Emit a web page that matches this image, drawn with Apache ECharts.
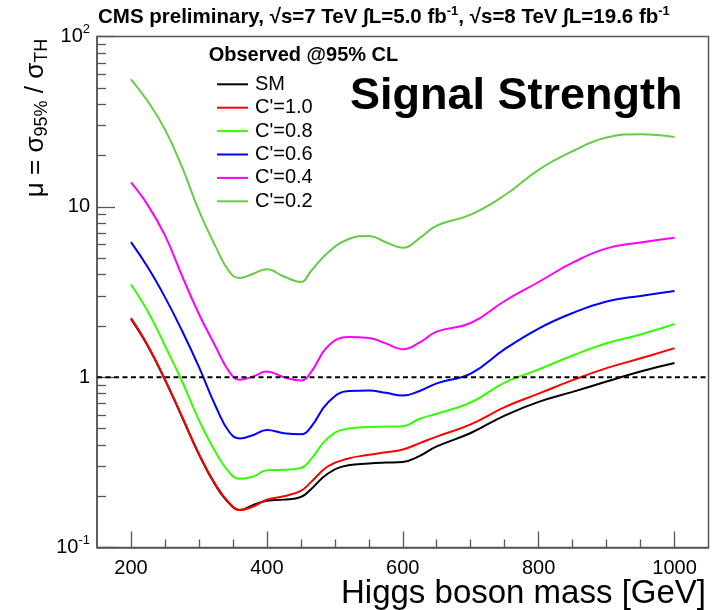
<!DOCTYPE html>
<html><head><meta charset="utf-8">
<script src="https://cdn.jsdelivr.net/npm/echarts@6/dist/echarts.min.js"></script>
<style>html,body{margin:0;padding:0;background:#fff}#c{width:712px;height:610px}</style>
</head><body><div id="c"></div>
<script>
const FONT = "'Liberation Sans', Arial, Helvetica, sans-serif";

const masses = [200, 225, 250, 275, 300, 325, 345, 360, 380, 400, 425, 450, 465, 490, 520, 550, 575, 600, 625, 650, 700, 750, 800, 850, 900, 950, 1000];
const seriesNames = ['SM', "C'=1.0", "C'=0.8", "C'=0.6", "C'=0.4", "C'=0.2"];
const seriesColors = ['#000000', '#ff0000', '#33ff00', '#0000ff', '#ff00ff', '#66cc44'];
const smValues  = [2.2, 1.52, 0.965, 0.585, 0.352, 0.23, 0.181, 0.166, 0.178, 0.188, 0.191, 0.198, 0.22, 0.272, 0.304, 0.311, 0.315, 0.318, 0.345, 0.392, 0.47, 0.595, 0.716, 0.82, 0.943, 1.08, 1.21];
const c10Values = [2.22, 1.53, 0.97, 0.59, 0.355, 0.232, 0.182, 0.166, 0.174, 0.191, 0.2, 0.215, 0.242, 0.3, 0.333, 0.35, 0.362, 0.376, 0.41, 0.448, 0.528, 0.667, 0.80, 0.96, 1.13, 1.29, 1.48];
const c08Values = [3.5, 2.42, 1.53, 0.95, 0.56, 0.36, 0.275, 0.253, 0.261, 0.284, 0.286, 0.293, 0.33, 0.44, 0.50, 0.51, 0.513, 0.515, 0.57, 0.61, 0.71, 0.93, 1.11, 1.34, 1.58, 1.78, 2.05];
const c06Values = [6.2, 4.4, 2.95, 1.88, 1.15, 0.67, 0.475, 0.437, 0.458, 0.49, 0.469, 0.462, 0.51, 0.71, 0.83, 0.835, 0.81, 0.78, 0.83, 0.92, 1.05, 1.46, 1.93, 2.38, 2.78, 3.0, 3.21];
const c04Values = [13.9, 10.2, 6.8, 3.95, 2.35, 1.5, 1.07, 0.965, 1.01, 1.08, 1.0, 0.955, 1.07, 1.52, 1.72, 1.70, 1.58, 1.46, 1.6, 1.85, 2.08, 2.8, 3.62, 4.7, 5.7, 6.18, 6.59];
const c02Values = [56, 41.5, 28.5, 17.2, 9.5, 5.8, 4.15, 3.82, 4.05, 4.3, 3.9, 3.62, 4.2, 5.4, 6.45, 6.75, 6.2, 5.75, 6.55, 7.75, 9.0, 11.7, 16.5, 21.2, 25.5, 26.7, 25.7];
const allValues = [smValues, c10Values, c08Values, c06Values, c04Values, c02Values];

const xMajorTicks = [200, 400, 600, 800, 1000];
const xMinorTicks = [250, 300, 350, 450, 500, 550, 650, 700, 750, 850, 900, 950];
const yMajorTicks = [0.1, 1, 10, 100];
const yMinorTicks = [0.2, 0.3, 0.4, 0.5, 0.6, 0.7, 0.8, 0.9, 2, 3, 4, 5, 6, 7, 8, 9, 20, 30, 40, 50, 60, 70, 80, 90];
const refLineX = [150, 1050];
const refLineY = [1, 1];

const AX = '#555';
const chart = echarts.init(document.getElementById('c'), null, {renderer: 'canvas'});

const lineSeries = seriesNames.map((n, k) => ({
  name: n, type: 'line', xAxisIndex: 0, yAxisIndex: 0,
  data: masses.map((m, i) => [m, allValues[k][i]]),
  showSymbol: false, smooth: 0.45, color: seriesColors[k],
  lineStyle: {width: 2, color: seriesColors[k]}, silent: true
}));
lineSeries.push({
  name: 'ref', type: 'line', data: refLineX.map((x, i) => [x, refLineY[i]]),
  showSymbol: false, z: 5, silent: true,
  lineStyle: {width: 2, color: '#000', type: [5, 3.5]}
});

function yLab(v) {
  if (v > 50) return '{b|10}{p|2}';
  if (v < 0.5) return '{b|10}{p|-1}';
  return '{b|' + Math.round(v) + '}';
}

chart.setOption({
  animation: false,
  backgroundColor: '#fff',
  grid: {left: 97, top: 36.5, width: 611.5, height: 511, show: true, borderColor: AX, borderWidth: 1.5, containLabel: false},
  xAxis: [{
    type: 'value', min: 150, max: 1050, position: 'bottom',
    axisLine: {show: true, lineStyle: {color: AX, width: 1.5}},
    axisTick: {show: true, inside: true, length: 16, customValues: xMajorTicks, lineStyle: {color: AX, width: 1.3}},
    axisLabel: {customValues: xMajorTicks, formatter: v => String(Math.round(v)), fontSize: 20, fontFamily: FONT, color: '#000', margin: 11},
    splitLine: {show: false}
  }, {
    type: 'value', min: 150, max: 1050, gridIndex: 0, position: 'bottom',
    axisLine: {show: false},
    axisTick: {show: true, inside: true, length: 8, customValues: xMinorTicks, lineStyle: {color: AX, width: 1.3}},
    axisLabel: {show: false}, splitLine: {show: false}
  }],
  yAxis: [{
    type: 'log', logBase: 10, min: 0.1, max: 100, position: 'left',
    axisLine: {show: true, lineStyle: {color: AX, width: 1.5}},
    axisTick: {show: true, inside: true, length: 18, customValues: yMajorTicks, lineStyle: {color: AX, width: 1.3}},
    axisLabel: {customValues: yMajorTicks, formatter: yLab, margin: 7,
      rich: {b: {fontSize: 20, fontFamily: FONT, color: '#000', lineHeight: 28},
             p: {fontSize: 13, fontFamily: FONT, color: '#000', verticalAlign: 'top', lineHeight: 14}}},
    splitLine: {show: false}, minorTick: {show: false}
  }, {
    type: 'log', logBase: 10, min: 0.1, max: 100, gridIndex: 0, position: 'left',
    axisLine: {show: false},
    axisTick: {show: true, inside: true, length: 9, customValues: yMinorTicks, lineStyle: {color: AX, width: 1.3}},
    axisLabel: {show: false}, splitLine: {show: false}
  }],
  legend: {
    orient: 'vertical', left: 212, top: 69.3, itemWidth: 31, itemHeight: 2, icon: 'rect', itemGap: 3.4,
    data: seriesNames, selectedMode: false,
    textStyle: {fontSize: 20, lineHeight: 20, fontFamily: FONT, color: '#000', padding: [0, 0, 0, 2]}
  },
  graphic: [
    {type: 'text', left: 98, top: 5, style: {
      text: '{t|CMS preliminary, √s=7 TeV ∫L=5.0 fb}{u|-1}{t|, √s=8 TeV ∫L=19.6 fb}{u|-1}',
      rich: {t: {fontSize: 20.5, fontWeight: 'bold', fontFamily: FONT, fill: '#000', lineHeight: 24},
             u: {fontSize: 13, fontWeight: 'bold', fontFamily: FONT, fill: '#000', verticalAlign: 'top', lineHeight: 13}}}},
    {type: 'text', x: 36, y: 118, rotation: Math.PI / 2, style: {
      text: '{m|μ = σ}{s|95%}{m| / σ}{s|TH}', align: 'center', verticalAlign: 'middle',
      rich: {m: {fontSize: 26, fontFamily: FONT, fill: '#000', lineHeight: 30},
             s: {fontSize: 18, fontFamily: FONT, fill: '#000', verticalAlign: 'bottom', lineHeight: 18}}}},
    {type: 'text', x: 706, y: 594, style: {text: 'Higgs boson mass [GeV]', align: 'right', verticalAlign: 'middle',
      fontSize: 33, fontFamily: FONT, fill: '#000'}},
    {type: 'text', x: 208.7, y: 55.5, style: {text: 'Observed @95% CL', align: 'left', verticalAlign: 'middle',
      fontSize: 20, fontWeight: 'bold', fontFamily: FONT, fill: '#000'}},
    {type: 'text', x: 350, y: 97, style: {text: 'Signal Strength', align: 'left', verticalAlign: 'middle',
      fontSize: 45, fontWeight: 'bold', fontFamily: FONT, fill: '#000'}}
  ],
  series: lineSeries
});
</script></body></html>
